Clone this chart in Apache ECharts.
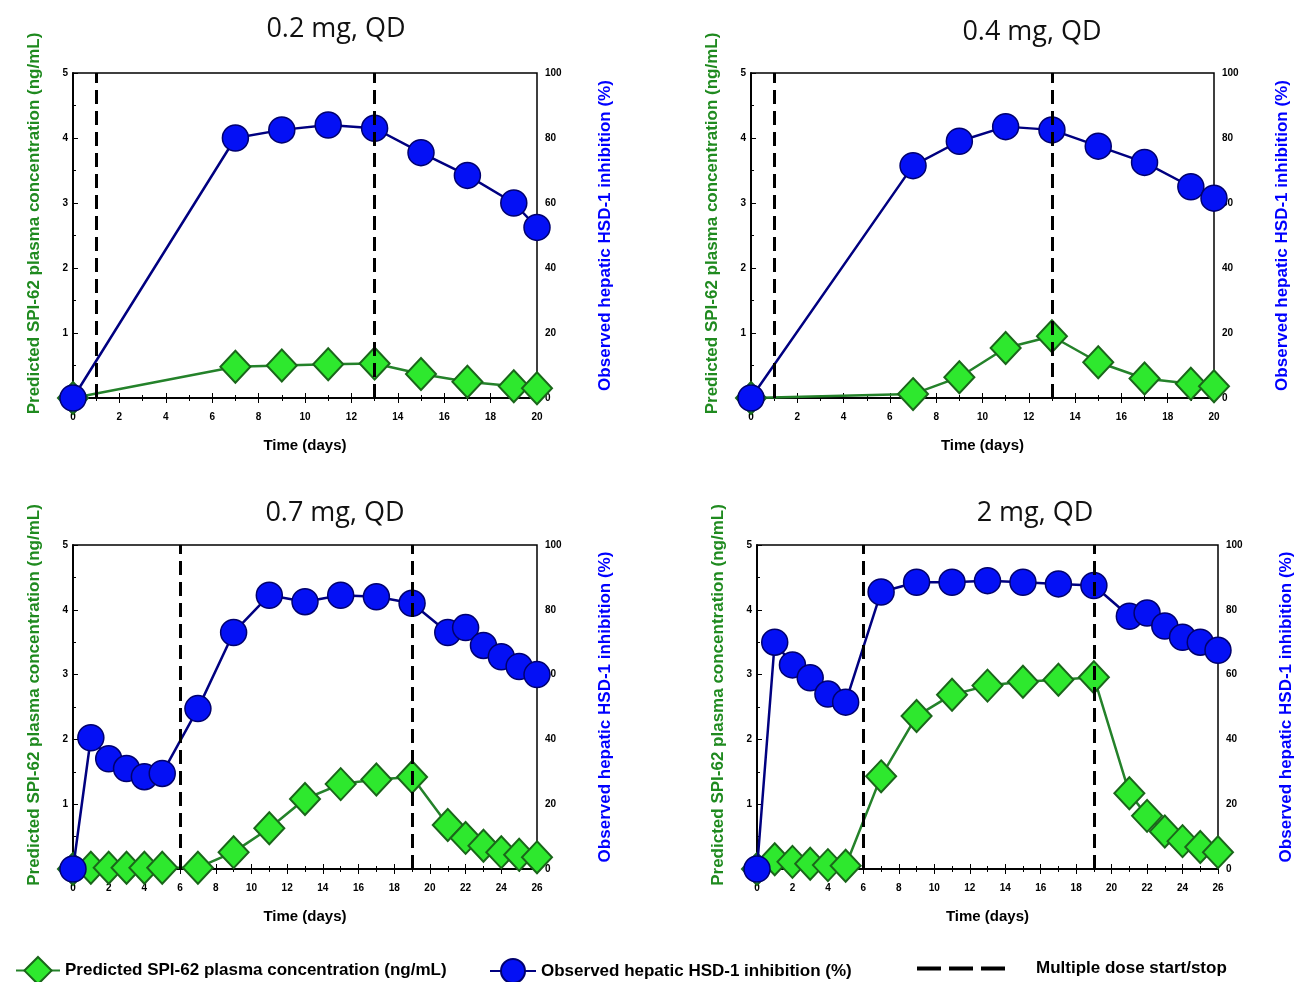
<!DOCTYPE html>
<html>
<head>
<meta charset="utf-8">
<script src="https://cdn.jsdelivr.net/npm/echarts@6/dist/echarts.min.js"></script>
<style>
  html, body { margin: 0; padding: 0; background: #fff; }
  #chart { width: 1297px; height: 982px; }
</style>
</head>
<body>
<div id="chart"></div>
<script>
// --- data ---
const titles = ["0.2 mg, QD", "0.4 mg, QD", "0.7 mg, QD", "2 mg, QD"];

const daysShort = [0, 7, 9, 11, 13, 15, 17, 19, 20];
const daysLong = [0, 1, 2, 3, 4, 5, 7, 9, 11, 13, 15, 17, 19, 21, 22, 23, 24, 25, 26];

const conc02 = [0, 0.48, 0.5, 0.52, 0.53, 0.37, 0.25, 0.18, 0.15];
const inhib02 = [0, 80, 82.5, 84, 83, 75.5, 68.5, 60, 52.5];

const conc04 = [0, 0.06, 0.32, 0.77, 0.95, 0.55, 0.3, 0.22, 0.18];
const inhib04 = [0, 71.5, 79, 83.5, 82.5, 77.5, 72.5, 65, 61.5];

const conc07 = [0, 0.02, 0.02, 0.02, 0.02, 0.02, 0.02, 0.26, 0.63, 1.08, 1.31, 1.38, 1.42, 0.68, 0.48, 0.36, 0.26, 0.22, 0.18];
const inhib07 = [0, 40.5, 34, 31, 28.5, 29.5, 49.5, 73, 84.5, 82.5, 84.5, 84, 82, 73, 74.5, 69, 65.5, 62.5, 60];

const conc2 = [0, 0.15, 0.11, 0.08, 0.06, 0.05, 1.43, 2.36, 2.69, 2.83, 2.89, 2.92, 2.96, 1.17, 0.82, 0.58, 0.43, 0.34, 0.26];
const inhib2 = [0, 70, 63, 59, 54, 51.5, 85.5, 88.5, 88.5, 89, 88.5, 88, 87.5, 78, 79, 75, 71.5, 70, 67.5];

const doseShort = [1, 13];
const doseLong = [6, 19];

const concName = "Predicted SPI-62 plasma concentration (ng/mL)";
const inhibName = "Observed hepatic HSD-1 inhibition (%)";
const doseName = "Multiple dose start/stop";

const panels = [
  { days: daysShort, conc: conc02, inhib: inhib02, dose: doseShort, xMax: 20 },
  { days: daysShort, conc: conc04, inhib: inhib04, dose: doseShort, xMax: 20 },
  { days: daysLong, conc: conc07, inhib: inhib07, dose: doseLong, xMax: 26 },
  { days: daysLong, conc: conc2, inhib: inhib2, dose: doseLong, xMax: 26 },
];

// --- layout ---
const grids = [
  { left: 73, top: 73, width: 464, height: 325 },
  { left: 751, top: 73, width: 463, height: 325 },
  { left: 73, top: 545, width: 464, height: 324 },
  { left: 757, top: 545, width: 461, height: 324 },
];
const titlePos = [
  { x: 331, y: 11 },
  { x: 1027, y: 14 },
  { x: 330, y: 495 },
  { x: 1030, y: 495 },
];

const FONT = "'Liberation Sans', Arial, sans-serif";
const GREEN_LINE = "#24822a";
const GREEN_FILL = "#2ee82e";
const GREEN_EDGE = "#1a661a";
const BLUE_LINE = "#000080";
const BLUE_FILL = "#0410f5";
const BLUE_EDGE = "#00006e";

const tickLabel = { color: "#000", fontSize: 10, fontWeight: "bold", fontFamily: FONT };
const legendText = { fontSize: 17, fontWeight: "bold", fontFamily: FONT, color: "#000" };

const option = {
  backgroundColor: "#fff",
  animation: false,
  title: [],
  grid: [],
  xAxis: [],
  yAxis: [],
  series: [],
  legend: [
    { left: 10, top: 951, itemWidth: 44, itemHeight: 34, itemGap: 6, data: [concName], textStyle: legendText },
    { left: 484, top: 953, itemWidth: 46, itemHeight: 30, itemGap: 6, data: [inhibName], textStyle: legendText },
    {
      left: 910, top: 955, itemWidth: 88, itemHeight: 20, data: [doseName],
      itemStyle: { opacity: 0 },
      lineStyle: { width: 4, type: [24, 8], color: "#000" },
      textStyle: Object.assign({ padding: [0, 0, 0, 26] }, legendText),
    },
  ],
};

panels.forEach((p, i) => {
  const xBottom = i * 2;
  const xTop = i * 2 + 1;
  const yLeft = i * 2;
  const yRight = i * 2 + 1;

  option.title.push({
    text: titles[i],
    left: titlePos[i].x,
    top: titlePos[i].y,
    textAlign: "center",
    textStyle: { fontSize: 27, fontWeight: "normal", fontFamily: "'Open Sans', 'Noto Sans', sans-serif", color: "#111" },
  });

  option.grid.push(Object.assign({ show: true, borderColor: "#000", borderWidth: 1.5, backgroundColor: "transparent" }, grids[i]));

  option.xAxis.push({
    type: "value", gridIndex: i, min: 0, max: p.xMax, interval: 2,
    name: "Time (days)", nameLocation: "middle", nameGap: 40,
    nameTextStyle: { fontSize: 15, fontWeight: "bold", fontFamily: FONT, color: "#000" },
    axisLine: { lineStyle: { color: "#000", width: 1.5 } },
    axisTick: { inside: true, length: 5, lineStyle: { color: "#000" } },
    minorTick: { show: true, splitNumber: 2, length: 3, lineStyle: { color: "#000" } },
    axisLabel: Object.assign({ margin: 14 }, tickLabel),
    splitLine: { show: false },
  });
  option.xAxis.push({
    type: "value", gridIndex: i, position: "top", min: 0, max: p.xMax, interval: 2,
    axisLine: { lineStyle: { color: "#000", width: 1.5 } },
    axisTick: { inside: true, length: 5, lineStyle: { color: "#000" } },
    minorTick: { show: true, splitNumber: 2, length: 3, lineStyle: { color: "#000" } },
    axisLabel: { show: false },
    splitLine: { show: false },
  });

  option.yAxis.push({
    type: "value", gridIndex: i, min: 0, max: 5, interval: 1,
    name: concName, nameLocation: "middle", nameGap: 30, nameRotate: 90,
    nameTextStyle: { fontSize: 17, fontWeight: "bold", fontFamily: FONT, color: "#1f8a1f", padding: [0, 0, 0, 24] },
    axisLine: { lineStyle: { color: "#000", width: 1.5 } },
    axisTick: { inside: true, length: 5, lineStyle: { color: "#000" } },
    minorTick: { show: true, splitNumber: 2, length: 3, lineStyle: { color: "#000" } },
    axisLabel: Object.assign({ margin: 5 }, tickLabel),
    splitLine: { show: false },
  });
  option.yAxis.push({
    type: "value", gridIndex: i, position: "right", min: 0, max: 100, interval: 20,
    name: inhibName, nameLocation: "middle", nameGap: 60, nameRotate: 90,
    nameTextStyle: { fontSize: 17, fontWeight: "bold", fontFamily: FONT, color: "#0000ff" },
    axisLine: { lineStyle: { color: "#000", width: 1.5 } },
    axisTick: { inside: false, length: 4, lineStyle: { color: "#000" } },
    axisLabel: Object.assign({ margin: 8 }, tickLabel),
    splitLine: { show: false },
  });

  option.series.push({
    name: concName, type: "line", xAxisIndex: xBottom, yAxisIndex: yLeft, z: 3,
    data: p.days.map((d, k) => [d, p.conc[k]]),
    symbol: "diamond", symbolSize: [30, 32],
    lineStyle: { color: GREEN_LINE, width: 2.5 },
    itemStyle: { color: GREEN_FILL, borderColor: GREEN_EDGE, borderWidth: 2 },
  });
  option.series.push({
    name: inhibName, type: "line", xAxisIndex: xBottom, yAxisIndex: yRight, z: 4,
    data: p.days.map((d, k) => [d, p.inhib[k]]),
    symbol: "circle", symbolSize: 26,
    lineStyle: { color: BLUE_LINE, width: 2.5 },
    itemStyle: { color: BLUE_FILL, borderColor: BLUE_EDGE, borderWidth: 1.5 },
  });
  option.series.push({
    name: doseName, type: "line", xAxisIndex: xTop, yAxisIndex: yLeft, z: 6,
    data: [],
    symbol: "none",
    lineStyle: { color: "#000", width: 4, type: [24, 8] },
    itemStyle: { color: "#000" },
    markLine: {
      silent: true, symbol: "none", z: 6,
      label: { show: false },
      lineStyle: { color: "#000", width: 3, type: [14, 7] },
      data: p.dose.map((d) => ({ xAxis: d })),
    },
  });
});

const chart = echarts.init(document.getElementById("chart"));
chart.setOption(option);
</script>
</body>
</html>
